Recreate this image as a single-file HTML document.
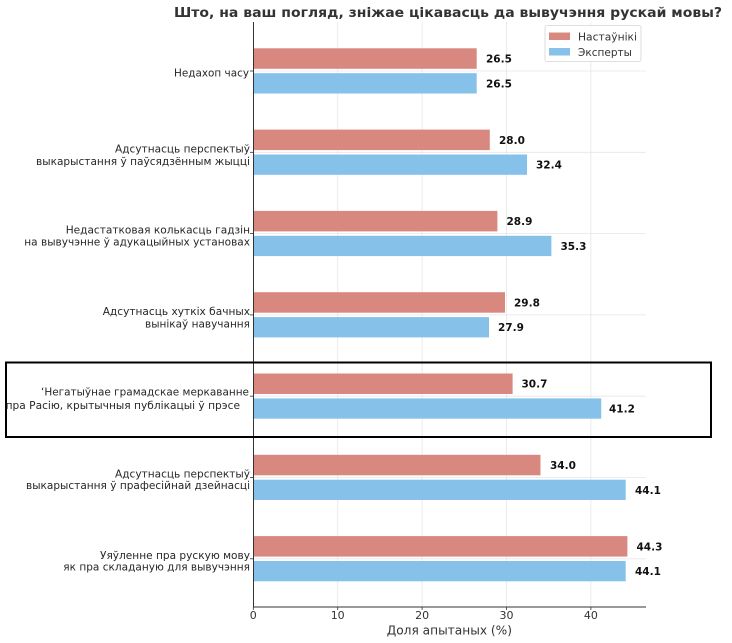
<!DOCTYPE html>
<html><head><meta charset="utf-8"><style>
html,body{margin:0;padding:0;background:#fff;}
svg{display:block;}
text{font-family:"DejaVu Sans","Liberation Sans",sans-serif;}
</style></head><body>
<svg width="732" height="643" viewBox="0 0 732 643" xmlns="http://www.w3.org/2000/svg">
<rect width="732" height="643" fill="#fff"/>
<!-- title -->
<text x="174" y="17" font-size="13.5" font-weight="bold" fill="#333" textLength="548" lengthAdjust="spacingAndGlyphs">Што, на ваш погляд, зніжае цікавасць да вывучэння рускай мовы?</text>
<!-- grid -->
<g stroke="#e6e6e6" stroke-width="0.8">
<line x1="337.7" y1="22" x2="337.7" y2="607"/>
<line x1="422.1" y1="22" x2="422.1" y2="607"/>
<line x1="506.5" y1="22" x2="506.5" y2="607"/>
<line x1="590.9" y1="22" x2="590.9" y2="607"/>
<line x1="253" y1="71" x2="646" y2="71"/>
<line x1="253" y1="152.3" x2="646" y2="152.3"/>
<line x1="253" y1="233.6" x2="646" y2="233.6"/>
<line x1="253" y1="314.9" x2="646" y2="314.9"/>
<line x1="253" y1="396.2" x2="646" y2="396.2"/>
<line x1="253" y1="477.5" x2="646" y2="477.5"/>
<line x1="253" y1="558.8" x2="646" y2="558.8"/>
</g>
<!-- bars -->
<g fill="#D98880">
<rect x="253.5" y="48.3" width="223.2" height="20.5"/>
<rect x="253.5" y="129.6" width="236.3" height="20.5"/>
<rect x="253.5" y="210.9" width="243.9" height="20.5"/>
<rect x="253.5" y="292.2" width="251.5" height="20.5"/>
<rect x="253.5" y="373.5" width="259.1" height="20.5"/>
<rect x="253.5" y="454.8" width="287.0" height="20.5"/>
<rect x="253.5" y="536.1" width="373.9" height="20.5"/>
</g>
<g fill="#85C1E9">
<rect x="253.5" y="73.2" width="223.2" height="20.3"/>
<rect x="253.5" y="154.5" width="273.5" height="20.3"/>
<rect x="253.5" y="235.8" width="297.9" height="20.3"/>
<rect x="253.5" y="317.1" width="235.5" height="20.3"/>
<rect x="253.5" y="398.4" width="347.7" height="20.3"/>
<rect x="253.5" y="479.7" width="372.2" height="20.3"/>
<rect x="253.5" y="561.0" width="372.2" height="20.3"/>
</g>
<!-- value labels -->
<g font-size="10.5" font-weight="bold" fill="#111">
<text x="486" y="62.5">26.5</text>
<text x="486" y="87.3">26.5</text>
<text x="499" y="143.8">28.0</text>
<text x="536" y="168.6">32.4</text>
<text x="506.5" y="225.1">28.9</text>
<text x="560.5" y="249.9">35.3</text>
<text x="514" y="306.4">29.8</text>
<text x="498" y="331.2">27.9</text>
<text x="521.5" y="387.7">30.7</text>
<text x="609" y="412.5">41.2</text>
<text x="550" y="469">34.0</text>
<text x="635" y="493.8">44.1</text>
<text x="636.5" y="550.3">44.3</text>
<text x="635" y="575.1">44.1</text>
</g>
<!-- spines -->
<line x1="253.5" y1="22" x2="253.5" y2="607.5" stroke="#333" stroke-width="1"/>
<line x1="253" y1="607" x2="646" y2="607" stroke="#333" stroke-width="1"/>
<!-- ticks -->
<g stroke="#333" stroke-width="0.8">
<line x1="250" y1="71" x2="253" y2="71"/>
<line x1="250" y1="152.3" x2="253" y2="152.3"/>
<line x1="250" y1="233.6" x2="253" y2="233.6"/>
<line x1="250" y1="314.9" x2="253" y2="314.9"/>
<line x1="250" y1="396.2" x2="253" y2="396.2"/>
<line x1="250" y1="477.5" x2="253" y2="477.5"/>
<line x1="250" y1="558.8" x2="253" y2="558.8"/>
<line x1="253.3" y1="607" x2="253.3" y2="610"/>
<line x1="337.7" y1="607" x2="337.7" y2="610"/>
<line x1="422.1" y1="607" x2="422.1" y2="610"/>
<line x1="506.5" y1="607" x2="506.5" y2="610"/>
<line x1="590.9" y1="607" x2="590.9" y2="610"/>
</g>
<!-- y labels -->
<g font-size="11" fill="#262626">
<text x="174" y="76.7" textLength="75" lengthAdjust="spacingAndGlyphs">Недахоп часу</text>
<text x="115" y="152.3" textLength="135" lengthAdjust="spacingAndGlyphs">Адсутнасць перспектыў</text>
<text x="36" y="165" textLength="214" lengthAdjust="spacingAndGlyphs">выкарыстання ў паўсядзённым жыцці</text>
<text x="65.7" y="233.3" textLength="184.3" lengthAdjust="spacingAndGlyphs">Недастатковая колькасць гадзін</text>
<text x="24.3" y="245.6" textLength="225.7" lengthAdjust="spacingAndGlyphs">на вывучэнне ў адукацыйных установах</text>
<text x="102.7" y="315" textLength="147.3" lengthAdjust="spacingAndGlyphs">Адсутнасць хуткіх бачных</text>
<text x="145" y="327.3" textLength="105" lengthAdjust="spacingAndGlyphs">вынікаў навучання</text>
<text x="41" y="395.7" textLength="208" lengthAdjust="spacingAndGlyphs">‘Негатыўнае грамадскае меркаванне</text>
<text x="5.6" y="409" textLength="234.4" lengthAdjust="spacingAndGlyphs">пра Расію, крытычныя публікацыі ў прэсе</text>
<text x="115" y="477.3" textLength="135" lengthAdjust="spacingAndGlyphs">Адсутнасць перспектыў</text>
<text x="26" y="489" textLength="224" lengthAdjust="spacingAndGlyphs">выкарыстання ў прафесійнай дзейнасці</text>
<text x="100" y="559" textLength="150" lengthAdjust="spacingAndGlyphs">Уяўленне пра рускую мову</text>
<text x="63.3" y="570.7" textLength="186.7" lengthAdjust="spacingAndGlyphs">як пра складаную для вывучэння</text>
</g>
<!-- x tick labels -->
<g font-size="11" fill="#333" text-anchor="middle">
<text x="253.3" y="619">0</text>
<text x="337.7" y="619">10</text>
<text x="422.1" y="619">20</text>
<text x="506.5" y="619">30</text>
<text x="590.9" y="619">40</text>
</g>
<text x="386.7" y="634.5" font-size="12.5" fill="#333" textLength="125.3" lengthAdjust="spacingAndGlyphs">Доля апытаных (%)</text>
<!-- legend -->
<rect x="545" y="25.5" width="96" height="36" rx="2" fill="#fff" fill-opacity="0.85" stroke="#d5d5d5" stroke-width="0.8"/>
<rect x="549" y="32.5" width="21" height="7.5" fill="#D98880"/>
<rect x="549" y="48" width="21" height="7.5" fill="#85C1E9"/>
<text x="578" y="40.5" font-size="11" fill="#333" textLength="59" lengthAdjust="spacingAndGlyphs">Настаўнікі</text>
<text x="578" y="56" font-size="11" fill="#333" textLength="54" lengthAdjust="spacingAndGlyphs">Эксперты</text>
<!-- highlight box -->
<rect x="6" y="362.5" width="705" height="74.5" fill="none" stroke="#000" stroke-width="2"/>
</svg>
</body></html>
